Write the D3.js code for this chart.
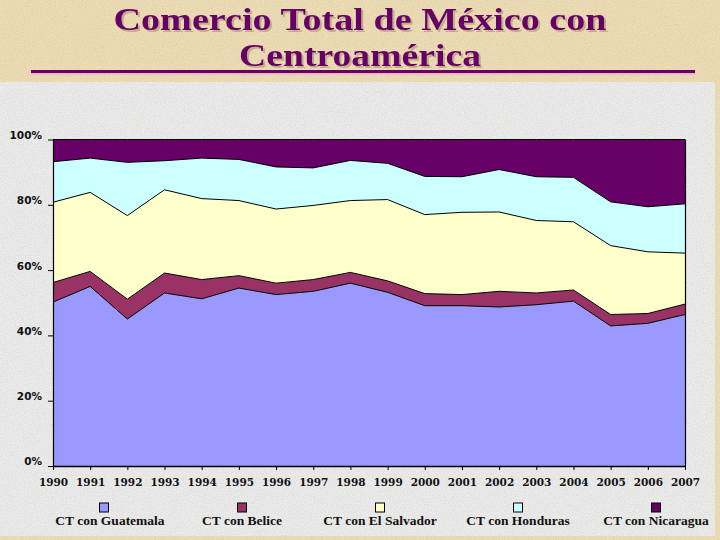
<!DOCTYPE html>
<html><head><meta charset="utf-8">
<script src="https://cdn.jsdelivr.net/npm/d3@7"></script>
<style>body{margin:0;background:#EEDDB4;} svg{display:block}</style>
</head><body>
<svg id="chart" width="720" height="540"></svg>
<script>
// ---- data (shares of total trade, %) ----
const years = ["1990","1991","1992","1993","1994","1995","1996","1997","1998","1999","2000","2001","2002","2003","2004","2005","2006","2007"];
const guatemala  = [50.2,55.0,45.0,53.0,51.2,54.5,52.5,53.5,56.0,53.2,49.1,49.1,48.7,49.4,50.5,42.9,43.7,46.4];
const belice     = [6.0,4.6,6.1,6.1,5.9,3.8,3.5,3.6,3.3,3.5,3.7,3.4,4.8,3.6,3.4,3.5,3.0,3.2];
const elSalvador = [24.6,24.2,25.6,25.5,24.8,23.0,22.7,22.7,22.0,24.9,24.2,25.2,24.3,22.2,20.9,21.1,18.9,15.6];
const honduras   = [12.4,10.5,16.3,8.9,12.4,12.6,12.9,11.5,12.3,11.1,11.7,10.9,13.0,13.4,13.6,13.4,13.8,15.1];
const nicaragua  = [6.8,5.7,7.0,6.5,5.7,6.1,8.4,8.7,6.4,7.3,11.3,11.4,9.2,11.4,11.6,19.1,20.6,19.7];
const seriesNames = ["CT con Guatemala","CT con Belice","CT con El Salvador","CT con Honduras","CT con Nicaragua"];
const seriesColors = ["#9999FF","#993366","#FFFFCC","#CCFFFF","#660066"];
const yTickValues = [0,0.2,0.4,0.6,0.8,1];
const titleLines = ["Comercio Total de México con","Centroamérica"];

const seriesData = [guatemala, belice, elSalvador, honduras, nicaragua];
const rows = years.map((y,i)=>{
  const r = {year:y};
  seriesNames.forEach((n,k)=> r[n] = seriesData[k][i]);
  return r;
});

const svg = d3.select("#chart");
const defs = svg.append("defs");
// subtle paper texture
const f1 = defs.append("filter").attr("id","noise").attr("x",0).attr("y",0).attr("width","100%").attr("height","100%");
f1.append("feTurbulence").attr("type","fractalNoise").attr("baseFrequency",0.9).attr("numOctaves",2).attr("seed",3).attr("result","t");
f1.append("feColorMatrix").attr("type","matrix")
  .attr("values","0 0 0 0 0.45  0 0 0 0 0.42  0 0 0 0 0.38  0 0 0 -1.6 1.05");
const sh = defs.append("filter").attr("id","shadow").attr("x","-5%").attr("y","-20%").attr("width","110%").attr("height","150%");
sh.append("feDropShadow").attr("dx",2).attr("dy",2).attr("stdDeviation",0.6).attr("flood-color","#8a6a50").attr("flood-opacity",0.4);

// parchment background
svg.append("rect").attr("width",720).attr("height",540).attr("fill","#EFDDB3");
svg.append("rect").attr("width",720).attr("height",540).attr("filter","url(#noise)").attr("opacity",0.35);
// gray panel
svg.append("rect").attr("x",0).attr("y",82).attr("width",715).attr("height",454).attr("fill","#ECECEC");
svg.append("rect").attr("x",0).attr("y",82).attr("width",715).attr("height",454).attr("filter","url(#noise)").attr("opacity",0.3);

// title
const titleWidths = [493, 242];
const tg = svg.append("g").attr("font-family","'Liberation Serif', serif").attr("font-weight","bold").attr("font-size",32.5)
  .attr("text-anchor","middle").attr("filter","url(#shadow)");
tg.selectAll("text").data(titleLines).join("text")
  .attr("x",360).attr("y",(d,i)=>30+i*36).attr("fill","#660066")
  .attr("textLength",(d,i)=>titleWidths[i]).attr("lengthAdjust","spacingAndGlyphs").text(d=>d);
svg.append("line").attr("x1",31).attr("x2",695).attr("y1",74).attr("y2",74).attr("stroke","#E9B9C4").attr("stroke-width",2);
svg.append("line").attr("x1",31).attr("x2",695).attr("y1",71.5).attr("y2",71.5).attr("stroke","#660066").attr("stroke-width",3);

// scales
const x = d3.scalePoint().domain(years).range([53,685]);
const y = d3.scaleLinear().domain([0,1]).range([466,139.5]);

const stack = d3.stack().keys(seriesNames).offset(d3.stackOffsetExpand);
const layers = stack(rows);

const area = d3.area().x(d=>x(d.data.year)).y0(d=>y(d[0])).y1(d=>y(d[1]));
const line = d3.line().x(d=>x(d.data.year)).y(d=>y(d[1]));

const plot = svg.append("g");
plot.selectAll("path.area").data(layers).join("path")
  .attr("class","area").attr("d",area).attr("fill",(d,i)=>seriesColors[i]);
plot.selectAll("path.edge").data(layers).join("path")
  .attr("class","edge").attr("d",line).attr("fill","none").attr("stroke","#000").attr("stroke-width",1);
// right edge
plot.append("line").attr("x1",x("2007")+0.5).attr("x2",x("2007")+0.5).attr("y1",y(1)).attr("y2",y(0)).attr("stroke","#000").attr("stroke-width",1.2);

// axes
const xAxis = svg.append("g").attr("transform","translate(0,466)")
  .call(d3.axisBottom(x).tickSize(4).tickSizeOuter(0).tickPadding(9));
xAxis.select(".domain").attr("stroke","#000").attr("stroke-width",1.5);
xAxis.selectAll("text").attr("font-family","'DejaVu Serif', serif").attr("font-weight","bold").attr("font-size",10.5).attr("fill","#111");

const yAxis = svg.append("g").attr("transform","translate(53,0)")
  .call(d3.axisLeft(y).tickValues(yTickValues).tickFormat(d3.format(".0%")).tickSize(5).tickSizeOuter(0).tickPadding(6));
yAxis.select(".domain").attr("stroke","#000").attr("stroke-width",1.2);
yAxis.selectAll("text").attr("font-family","'DejaVu Sans', sans-serif").attr("font-weight","bold").attr("font-size",10.5).attr("fill","#111").attr("dy","-0.1em");

// legend
const lx = d3.scalePoint().domain(seriesNames).range([104,656]);
const lg = svg.append("g");
seriesNames.forEach((n,i)=>{
  lg.append("rect").attr("x",lx(n)-4.5).attr("y",503).attr("width",9).attr("height",9)
    .attr("fill",seriesColors[i]).attr("stroke","#000").attr("stroke-width",1);
  lg.append("text").attr("x",lx(n)+(i===0?6:0)).attr("y",525).attr("text-anchor","middle")
    .attr("font-family","'Liberation Serif', serif").attr("font-weight","bold").attr("font-size",13.5).attr("fill","#111").text(n);
});
</script>
</body></html>
